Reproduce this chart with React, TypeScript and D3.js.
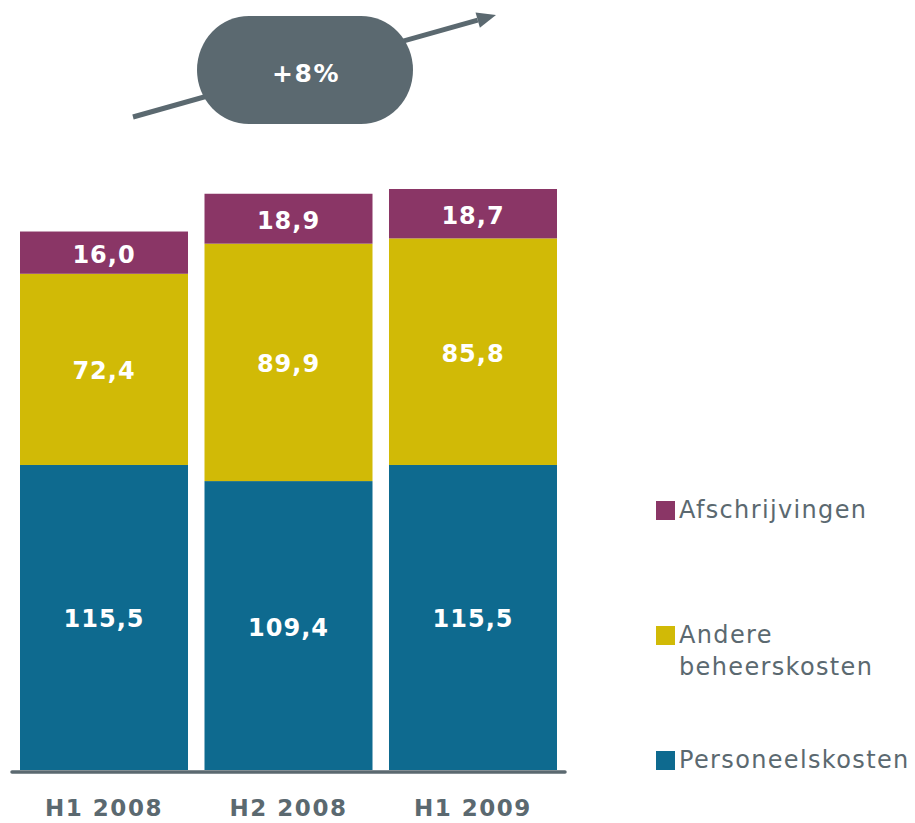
import React from "react";
import * as d3 from "d3";

const categories = ["H1 2008", "H2 2008", "H1 2009"];
const personeelskosten = [115.5, 109.4, 115.5];
const andereBeheerskosten = [72.4, 89.9, 85.8];
const afschrijvingen = [16.0, 18.9, 18.7];
const seriesNames = ["Personeelskosten", "Andere beheerskosten", "Afschrijvingen"];
const seriesColors = ["#0E6A8F", "#D1BA06", "#8A3666"];
const growthLabel = "+8%";

const W = 915;
const H = 823;
const GRAY = "#5B6970";

export default function App() {
  const x = d3.scaleBand<string>().domain(categories).range([20, 557]).paddingInner(0.0894).paddingOuter(0);
  const y = d3.scaleLinear().domain([0, 220]).range([770, 189]);

  const table = categories.map((c, i) => ({
    cat: c,
    Personeelskosten: personeelskosten[i],
    "Andere beheerskosten": andereBeheerskosten[i],
    Afschrijvingen: afschrijvingen[i],
  }));
  const stack = d3.stack<any>().keys(seriesNames)(table);
  const fmt = (v: number) => v.toFixed(1).replace(".", ",");

  // arrow geometry
  const x0 = 133, y0 = 117, x1 = 496, y1 = 15;
  const ang = Math.atan2(y1 - y0, x1 - x0);
  const headLen = 19, headW = 8;
  const bx = x1 - headLen * Math.cos(ang);
  const by = y1 - headLen * Math.sin(ang);
  const px = -Math.sin(ang), py = Math.cos(ang);
  const head = `M${x1},${y1} L${bx + px * headW},${by + py * headW} L${bx - px * headW},${by - py * headW} Z`;

  const legendItems = [
    { name: ["Afschrijvingen"], color: seriesColors[2], base: 518 },
    { name: ["Andere", "beheerskosten"], color: seriesColors[1], base: 643 },
    { name: ["Personeelskosten"], color: seriesColors[0], base: 768 },
  ];

  return (
    <svg width={W} height={H} style={{ position: "absolute", left: 0, top: 0 }} fontFamily="'DejaVu Sans', Verdana, sans-serif">
      <rect width={W} height={H} fill="#fff" />
      {/* growth arrow */}
      <line x1={x0} y1={y0} x2={bx} y2={by} stroke={GRAY} strokeWidth={5} />
      <path d={head} fill={GRAY} />
      <rect x={197} y={16} width={216} height={108} rx={52} ry={54} fill={GRAY} />
      <text x={306} y={82} textAnchor="middle" fill="#fff" fontWeight="bold" fontSize={25} letterSpacing={1.5}>{growthLabel}</text>

      {/* bars */}
      {stack.map((s, si) => (
        <g key={seriesNames[si]}>
          {s.map((d, i) => {
            const top = y(d[1]);
            const bot = y(d[0]);
            const cx = (x(categories[i]) as number) + x.bandwidth() / 2;
            return (
              <g key={i}>
                <rect x={x(categories[i])} y={top} width={x.bandwidth()} height={bot - top} fill={seriesColors[si]} />
                <text x={cx} y={(top + bot) / 2 + 10} textAnchor="middle" fill="#fff" fontWeight="bold" fontSize={24} letterSpacing={1}>
                  {fmt(d[1] - d[0])}
                </text>
              </g>
            );
          })}
        </g>
      ))}

      {/* axis line */}
      <line x1={12} y1={772} x2={565} y2={772} stroke={GRAY} strokeWidth={3.5} strokeLinecap="round" />
      {categories.map((c) => (
        <text key={c} x={(x(c) as number) + x.bandwidth() / 2} y={816} textAnchor="middle" fill={GRAY} fontWeight="bold" fontSize={23} letterSpacing={1.5}>
          {c}
        </text>
      ))}

      {/* legend */}
      {legendItems.map((it) => (
        <g key={it.name.join(" ")}>
          <rect x={656} y={it.base - 17} width={19} height={19} fill={it.color} />
          {it.name.map((ln, k) => (
            <text key={k} x={679} y={it.base + k * 32} fill={GRAY} fontSize={24} letterSpacing={1.35}>
              {ln}
            </text>
          ))}
        </g>
      ))}
    </svg>
  );
}
